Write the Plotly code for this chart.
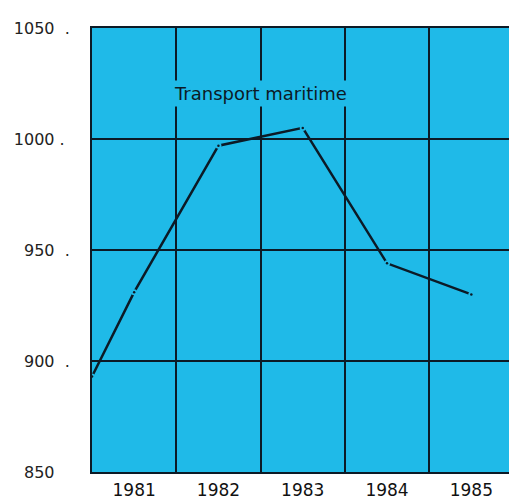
import plotly.graph_objects as go

# values
years = [1980.5, 1981, 1982, 1983, 1984, 1985]
tonnage = [893, 931, 997, 1005, 944, 930]

year_ticks = [1981, 1982, 1983, 1984, 1985]
year_labels = ['1981', '1982', '1983', '1984', '1985']
y_ticks = [850, 900, 950, 1000, 1050]
y_labels = ['850\u00a0\u00a0\u00a0', '900\u00a0\u00a0.', '950\u00a0\u00a0.',
            '1000\u00a0.\u00a0', '1050\u00a0\u00a0.']

series_name = 'Transport maritime'

cyan = '#1fbae8'
ink = '#0c1a26'
font_family = 'DejaVu Sans, Liberation Sans, Arial, sans-serif'

fig = go.Figure()

fig.add_trace(go.Scatter(
    x=years, y=tonnage,
    mode='lines',
    line=dict(color=ink, width=2.5),
    showlegend=False,
    hoverinfo='skip',
))

# little breaks with a dot at each data point, as in the print
fig.add_trace(go.Scatter(
    x=years, y=tonnage,
    mode='markers',
    marker=dict(color=cyan, size=6, line=dict(width=0)),
    showlegend=False,
    hoverinfo='skip',
))
fig.add_trace(go.Scatter(
    x=years, y=tonnage,
    mode='markers',
    marker=dict(color=ink, size=2.5, line=dict(width=0)),
    showlegend=False,
    hoverinfo='skip',
))

fig.add_annotation(
    x=1982.5, y=1020.5, text=series_name, showarrow=False,
    bgcolor=cyan, borderpad=2,
    font=dict(size=18, color=ink, family=font_family),
)

fig.update_layout(
    width=509, height=502,
    margin=dict(l=92, r=0, t=28, b=30),
    paper_bgcolor='white',
    plot_bgcolor=cyan,
    font=dict(family=font_family, color='#1a1a1a'),
    xaxis=dict(
        range=[1980.5, 1985.447],
        tickvals=year_ticks, ticktext=year_labels,
        tickfont=dict(size=17, color='#111'),
        ticks='', ticklabelstandoff=2,
        showgrid=False, zeroline=False,
        minor=dict(tick0=1980.5, dtick=1, showgrid=True,
                   gridcolor=ink, gridwidth=2, ticks=''),
        showline=True, linecolor=ink, linewidth=2, mirror=True,
    ),
    yaxis=dict(
        range=[850, 1050],
        tickvals=y_ticks, ticktext=y_labels,
        tickfont=dict(size=16, color='#222'),
        ticks='', ticklabelstandoff=17,
        showgrid=True, gridcolor=ink, gridwidth=2,
        zeroline=False,
        showline=True, linecolor=ink, linewidth=2,
    ),
)

# drop the default 8px page margin so the figure fills the window
fig.write_html('out.html', config=dict(displayModeBar=False),
               post_script="document.body.style.margin = '0';")
